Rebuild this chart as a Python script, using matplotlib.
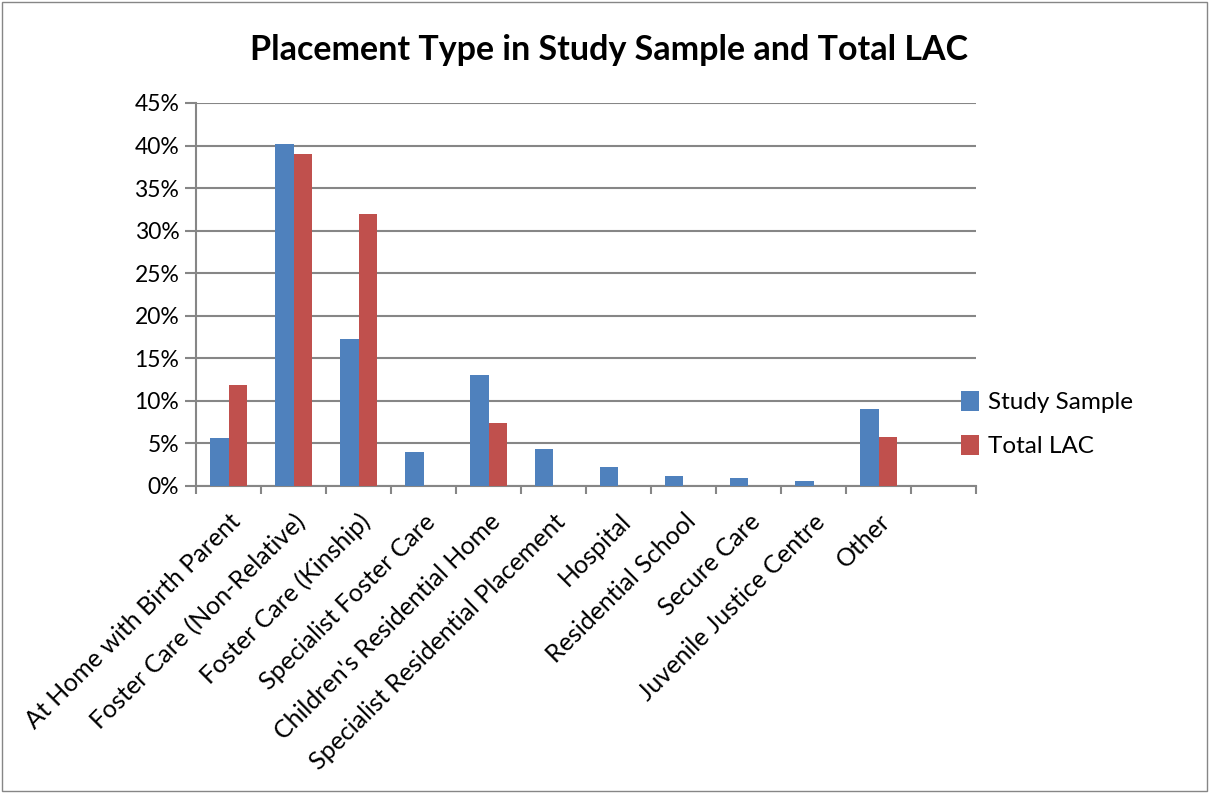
import matplotlib.pyplot as plt
import numpy as np
from matplotlib.ticker import FuncFormatter, FixedLocator
from matplotlib.patches import Rectangle

plt.rcParams['font.family'] = ['Lato', 'DejaVu Sans']

categories = ['At Home with Birth Parent', 'Foster Care (Non-Relative)', 'Foster Care (Kinship)',
              'Specialist Foster Care', "Children's Residential Home", 'Specialist Residential Placement',
              'Hospital', 'Residential School', 'Secure Care', 'Juvenile Justice Centre', 'Other', '']
study_sample = [5.6, 40.2, 17.3, 4.0, 13.0, 4.4, 2.2, 1.2, 0.9, 0.6, 9.0, 0]
total_lac = [11.9, 39.0, 32.0, 0, 7.4, 0, 0, 0, 0, 0, 5.7, 0]

fig = plt.figure(figsize=(12.11, 7.93), dpi=100)
ax = fig.add_axes([196 / 1211, 1 - 486 / 793, (976 - 196) / 1211, (486 - 103) / 793])
fig.patches.append(Rectangle((0.002, 0.003), 0.995, 0.994, transform=fig.transFigure,
                             fill=False, edgecolor='#868686', linewidth=1))

x = np.arange(len(categories))
w = 0.285
ax.bar(x - w / 2, study_sample, w, color='#4f81bd', label='Study Sample', zorder=3)
ax.bar(x + w / 2, total_lac, w, color='#c0504d', label='Total LAC', zorder=3)

ax.set_xlim(-0.5, len(categories) - 0.5)
ax.set_ylim(0, 45)
ax.set_yticks(np.arange(0, 46, 5))
ax.yaxis.set_major_formatter(FuncFormatter(lambda v, p: f'{v:.0f}%'))
ax.grid(axis='y', color='#868686', linewidth=1.5, zorder=0)

ax.set_xticks(x)
ax.set_xticklabels(categories, rotation=45, ha='right', rotation_mode='anchor', fontsize=18)
ax.tick_params(axis='x', which='major', length=0, pad=17)
ax.xaxis.set_minor_locator(FixedLocator(np.arange(-0.5, len(categories), 1)))
ax.tick_params(axis='x', which='minor', length=6, width=1.5, color='#868686')
ax.tick_params(axis='y', length=8, width=1.5, color='#868686', labelsize=16.5, pad=4)

for s in ['top', 'right']:
    ax.spines[s].set_visible(False)
for s in ['left', 'bottom']:
    ax.spines[s].set_color('#868686')
    ax.spines[s].set_linewidth(1.5)

fig.text(609 / 1211, 1 - 50 / 793, 'Placement Type in Study Sample and Total LAC',
         fontsize=24.5, fontweight='bold', ha='center', va='center')
ax.legend(loc='center left', bbox_to_anchor=(0.981, 0.162), frameon=False, fontsize=17.5,
          borderaxespad=0, borderpad=0,
          handlelength=0.75, handleheight=0.9, handletextpad=0.35, labelspacing=0.9)

fig.savefig('out.png', dpi=100)
